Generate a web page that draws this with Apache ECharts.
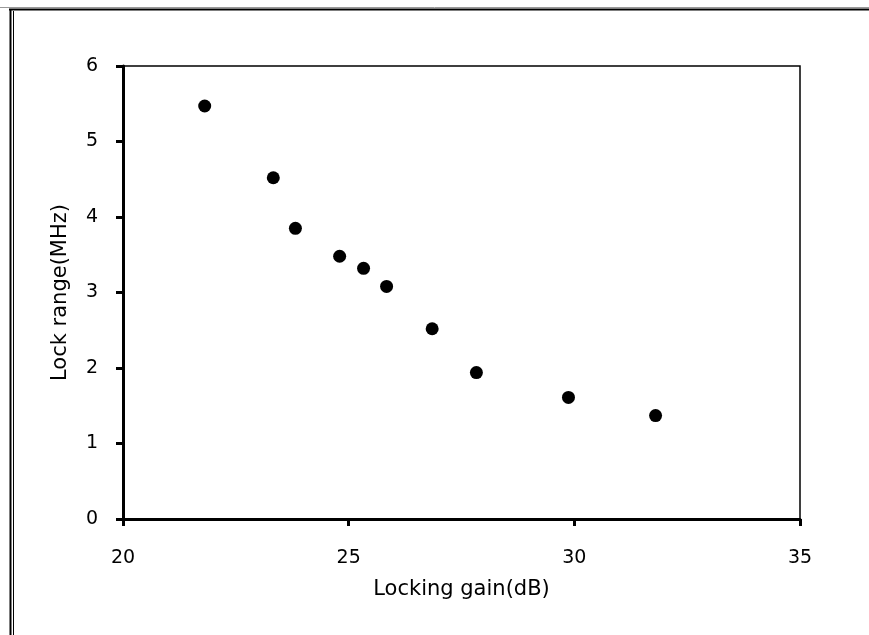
<!DOCTYPE html>
<html>
<head>
<meta charset="utf-8">
<script src="https://cdn.jsdelivr.net/npm/echarts@6/dist/echarts.min.js"></script>
<style>html,body{margin:0;padding:0;background:#fff}#c{width:869px;height:635px}</style>
</head>
<body>
<div id="c"></div>
<script>
const gainDb = [21.81, 23.33, 23.82, 24.80, 25.33, 25.84, 26.85, 27.83, 29.87, 31.80];
const lockRangeMHz = [5.47, 4.52, 3.85, 3.48, 3.32, 3.08, 2.52, 1.94, 1.61, 1.37];
const xTicks = [20, 25, 30, 35];
const yTicks = [0, 1, 2, 3, 4, 5, 6];
const xTitle = 'Locking gain(dB)';
const yTitle = 'Lock range(MHz)';

const points = gainDb.map((g, i) => [g, lockRangeMHz[i]]);
const font = '"DejaVu Sans", "Liberation Sans", Arial, sans-serif';
const chart = echarts.init(document.getElementById('c'), null, {renderer: 'canvas'});
chart.setOption({
  animation: false,
  backgroundColor: '#fff',
  grid: {left: 123, top: 66, right: 69, bottom: 116, show: true, borderColor: '#000', borderWidth: 1.5, backgroundColor: 'transparent'},
  xAxis: {
    type: 'value', min: xTicks[0], max: xTicks[xTicks.length - 1], interval: 5,
    name: xTitle, nameLocation: 'middle', nameGap: 60,
    nameTextStyle: {fontFamily: font, fontSize: 21, color: '#000'},
    axisLine: {show: true, onZero: false, lineStyle: {color: '#000', width: 3}},
    axisTick: {show: true, inside: false, length: 7, lineStyle: {color: '#000', width: 3}},
    axisLabel: {fontFamily: font, fontSize: 19, color: '#000', margin: 30},
    splitLine: {show: false}
  },
  yAxis: {
    type: 'value', min: yTicks[0], max: yTicks[yTicks.length - 1], interval: 1,
    name: yTitle, nameLocation: 'middle', nameGap: 52,
    nameTextStyle: {fontFamily: font, fontSize: 21, color: '#000'},
    axisLine: {show: true, onZero: false, lineStyle: {color: '#000', width: 3}},
    axisTick: {show: true, inside: false, length: 7, lineStyle: {color: '#000', width: 3}},
    axisLabel: {fontFamily: font, fontSize: 19, color: '#000', margin: 25},
    splitLine: {show: false}
  },
  series: [{
    type: 'scatter', data: points, symbol: 'circle', symbolSize: 13,
    itemStyle: {color: '#000', opacity: 1}
  }],
  graphic: [
    {type: 'line', shape: {x1: 0, y1: 7.5, x2: 869, y2: 7.5}, style: {stroke: '#999', lineWidth: 1}},
    {type: 'line', shape: {x1: 9, y1: 9.5, x2: 869, y2: 9.5}, style: {stroke: '#000', lineWidth: 2}},
    {type: 'line', shape: {x1: 10.5, y1: 9, x2: 10.5, y2: 635}, style: {stroke: '#000', lineWidth: 2}},
    {type: 'line', shape: {x1: 13.5, y1: 11, x2: 13.5, y2: 635}, style: {stroke: '#000', lineWidth: 1}}
  ]
});
</script>
</body>
</html>
